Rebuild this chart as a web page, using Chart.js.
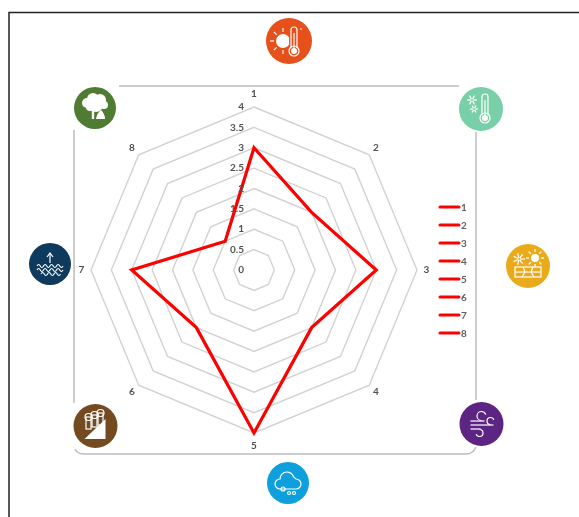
<!DOCTYPE html>
<html>
<head>
<meta charset="utf-8">
<style>
  html, body { margin: 0; padding: 0; background: #fff; }
  #wrap { width: 579px; height: 517px; }
  #radar { display: block; filter: blur(0.4px); }
</style>
<script src="https://cdn.jsdelivr.net/npm/chart.js@4"></script>
</head>
<body>
<div id="wrap"><canvas id="radar" width="579" height="517"></canvas></div>
<script>
  const categories = ['1', '2', '3', '4', '5', '6', '7', '8'];
  const values = [3, 2, 3, 2, 4, 2, 3, 1];
  const tickValues = [0, 0.5, 1, 1.5, 2, 2.5, 3, 3.5, 4];
  const labelFont = 'bold 10px Lato, "Open Sans", sans-serif';

  // ---- Icon glyphs (white line art inside each circle) ----
  function line(c, pts) {
    c.beginPath();
    pts.forEach((p, i) => i ? c.lineTo(p[0], p[1]) : c.moveTo(p[0], p[1]));
    c.stroke();
  }
  function arc(c, x, y, r, fill) {
    c.beginPath();
    c.arc(x, y, r, 0, Math.PI * 2);
    fill ? c.fill() : c.stroke();
  }
  function thermo(c, x, y) {
    c.beginPath();
    c.moveTo(x - 3, y + 7);
    c.lineTo(x - 3, y - 11);
    c.arc(x, y - 11, 3, Math.PI, 0);
    c.lineTo(x + 3, y + 7);
    c.stroke();
    arc(c, x, y + 10, 5, false);
    arc(c, x, y + 10, 3, true);
    line(c, [[x, y - 8], [x, y + 8]]);
  }
  function rays(c, x, y, r1, r2, n) {
    for (let i = 0; i < n; i++) {
      const a = i / n * Math.PI * 2;
      line(c, [[x + Math.cos(a) * r1, y + Math.sin(a) * r1], [x + Math.cos(a) * r2, y + Math.sin(a) * r2]]);
    }
  }
  const glyphs = {
    heat(c, x, y) {
      arc(c, x - 6, y, 7, true);
      rays(c, x - 6, y, 9, 13, 8);
      c.fillStyle = '#E5501B';
      c.fillRect(x, y - 15, 11, 30);
      c.fillStyle = '#fff';
      thermo(c, x + 5, y);
      line(c, [[x + 11, y - 12], [x + 13, y - 12]]);
    },
    cold(c, x, y) {
      thermo(c, x + 4, y - 1);
      rays(c, x - 9, y - 9, 1, 5, 6);
      rays(c, x - 7, y, 1, 4, 6);
    },
    drought(c, x, y) {
      arc(c, x + 7, y - 8, 4, true);
      rays(c, x + 7, y - 8, 6, 9, 8);
      rays(c, x - 9, y - 7, 1, 6, 7);
      c.strokeRect(x - 13, y + 1, 26, 10);
      line(c, [[x - 13, y + 6], [x + 13, y + 6]]);
      line(c, [[x - 5, y + 1], [x - 3, y + 6], [x - 6, y + 11]]);
      line(c, [[x + 5, y + 1], [x + 3, y + 6], [x + 6, y + 11]]);
    },
    wind(c, x, y) {
      line(c, [[x - 11, y - 3], [x + 3, y - 3]]);
      line(c, [[x - 11, y + 1], [x + 12, y + 1]]);
      line(c, [[x - 11, y + 5], [x - 1, y + 5]]);
      c.beginPath(); c.arc(x, y - 8, 4.5, Math.PI * 0.5, Math.PI * 1.9, false); c.stroke();
      c.beginPath(); c.arc(x + 9, y - 3, 3.5, Math.PI * 0.5, Math.PI * 1.9, false); c.stroke();
      c.beginPath(); c.arc(x - 2, y + 9, 3.5, -Math.PI * 0.5, Math.PI * 0.9); c.stroke();
    },
    rain(c, x, y) {
      c.beginPath();
      c.arc(x - 8, y + 1, 5, Math.PI * 0.5, Math.PI * 1.5);
      c.arc(x - 1, y - 4, 7, Math.PI * 1.1, Math.PI * 1.9);
      c.arc(x + 8, y + 1, 5, Math.PI * 1.5, Math.PI * 0.5);
      c.closePath();
      c.stroke();
      arc(c, x - 5, y + 6, 2, false);
      arc(c, x + 1, y + 10, 1.5, false);
      arc(c, x + 6, y + 10, 1.5, false);
    },
    landslide(c, x, y) {
      c.beginPath();
      c.moveTo(x - 11, y + 13);
      c.lineTo(x + 10, y - 7);
      c.lineTo(x + 10, y + 13);
      c.closePath();
      c.fill();
      [[-7, -9], [-1, -11], [5, -13]].forEach(t => {
        c.strokeRect(x + t[0] - 2.5, y + t[1], 5, 12);
        arc(c, x + t[0], y + t[1], 3.5, false);
      });
    },
    sea(c, x, y) {
      line(c, [[x, y - 1], [x, y - 10]]);
      line(c, [[x - 3, y - 7], [x, y - 11], [x + 3, y - 7]]);
      [2, 6, 10].forEach((dy, i) => {
        const w = i === 2 ? 9 : 13;
        c.beginPath();
        c.moveTo(x - w, y + dy);
        for (let k = -w; k < w; k += 6.5) {
          c.quadraticCurveTo(x + k + 1.6, y + dy - 3, x + k + 3.25, y + dy);
          c.quadraticCurveTo(x + k + 4.9, y + dy + 3, x + k + 6.5, y + dy);
        }
        c.stroke();
      });
    },
    fire(c, x, y) {
      [[-8, -5, 5], [-2, -9, 6], [5, -8, 6], [9, -3, 4], [1, -3, 7], [-5, -1, 4]].forEach(b => arc(c, x + b[0], y + b[1], b[2], true));
      c.lineWidth = 2.4;
      line(c, [[x - 2, y + 1], [x - 2, y + 11]]);
      c.lineWidth = 1.2;
      c.beginPath();
      c.moveTo(x + 1, y + 11);
      c.quadraticCurveTo(x + 2, y + 5, x + 6, y + 2);
      c.quadraticCurveTo(x + 10, y + 6, x + 10, y + 11);
      c.closePath();
      c.fill();
    }
  };
  const icons = [
    { color: '#E5501B', x: 289, y: 41, r: 23, glyph: 'heat' },
    { color: '#79CFA8', x: 481, y: 109, r: 22, glyph: 'cold' },
    { color: '#E9AB1C', x: 528, y: 266, r: 22, glyph: 'drought' },
    { color: '#5C2483', x: 481.5, y: 424, r: 22, glyph: 'wind' },
    { color: '#0E9FDD', x: 288, y: 483, r: 21, glyph: 'rain' },
    { color: '#744A21', x: 95.5, y: 426, r: 22, glyph: 'landslide' },
    { color: '#0E3A5D', x: 50, y: 264, r: 21, glyph: 'sea' },
    { color: '#4F7B33', x: 95, y: 108, r: 21, glyph: 'fire' }
  ];

  // page frame, grey rounded frame and icons sit under the chart
  const backdrop = {
    id: 'backdrop',
    beforeDraw(chart) {
      const c = chart.ctx;
      c.save();
      c.fillStyle = '#fff';
      c.fillRect(0, 0, 579, 517);
      c.strokeStyle = '#222';
      c.lineWidth = 1.5;
      line(c, [[9, 517], [9, 12.5], [579, 12.5]]);
      c.strokeStyle = '#BDBDBD';
      c.lineWidth = 1.5;
      line(c, [[119, 86], [459, 86]]);
      line(c, [[74, 130], [74, 403]]);
      line(c, [[476, 132], [476, 400]]);
      c.beginPath();
      c.moveTo(75, 449);
      c.quadraticCurveTo(77, 454, 85, 454);
      c.lineTo(466, 454);
      c.quadraticCurveTo(473, 454, 476, 447);
      c.stroke();
      icons.forEach(ic => {
        c.fillStyle = ic.color;
        arc(c, ic.x, ic.y, ic.r, true);
        c.fillStyle = '#fff';
        c.strokeStyle = '#fff';
        c.lineWidth = 1.2;
        glyphs[ic.glyph](c, ic.x, ic.y);
      });
      c.restore();
    }
  };

  // value labels left of the vertical axis, spoke labels close to the outer ring, legend column on the right
  const annotations = {
    id: 'annotations',
    afterDraw(chart) {
      const c = chart.ctx;
      const scale = chart.scales.r;
      c.save();
      c.font = labelFont;
      c.fillStyle = '#505050';
      c.textAlign = 'right';
      c.textBaseline = 'middle';
      tickValues.forEach(v => {
        c.fillText(String(v), scale.xCenter - 10, scale.yCenter - scale.getDistanceFromCenterForValue(v));
      });
      c.textAlign = 'center';
      categories.forEach((name, i) => {
        const gap = i % 4 === 0 ? 13 : 9.5;
        const p = scale.getPointPosition(i, scale.drawingArea + gap);
        c.fillText(name, p.x, p.y);
      });
      c.textAlign = 'left';
      c.fillStyle = '#606060';
      categories.forEach((name, i) => {
        const y = 207 + i * 18;
        c.strokeStyle = '#FF0000';
        c.lineWidth = 3;
        c.lineCap = 'round';
        line(c, [[440, y], [459, y]]);
        c.fillText(name, 461, y + 0.5);
      });
      c.restore();
    }
  };

  new Chart(document.getElementById('radar'), {
    type: 'radar',
    data: {
      labels: categories,
      datasets: [{
        data: values,
        borderColor: '#FF0000',
        borderWidth: 3.2,
        borderJoinStyle: 'miter',
        pointRadius: 0,
        fill: false,
        tension: 0
      }]
    },
    plugins: [backdrop, annotations],
    options: {
      responsive: false,
      animation: false,
      layout: { padding: { left: 91.5, right: 161.5, top: 107, bottom: 84 } },
      plugins: { legend: { display: false }, tooltip: { enabled: false } },
      scales: {
        r: {
          min: 0,
          max: 4,
          ticks: { stepSize: 0.5, display: false },
          grid: { color: '#D2D2D2', lineWidth: 1.4 },
          angleLines: { display: false },
          pointLabels: { display: false }
        }
      }
    }
  });
</script>
</body>
</html>
